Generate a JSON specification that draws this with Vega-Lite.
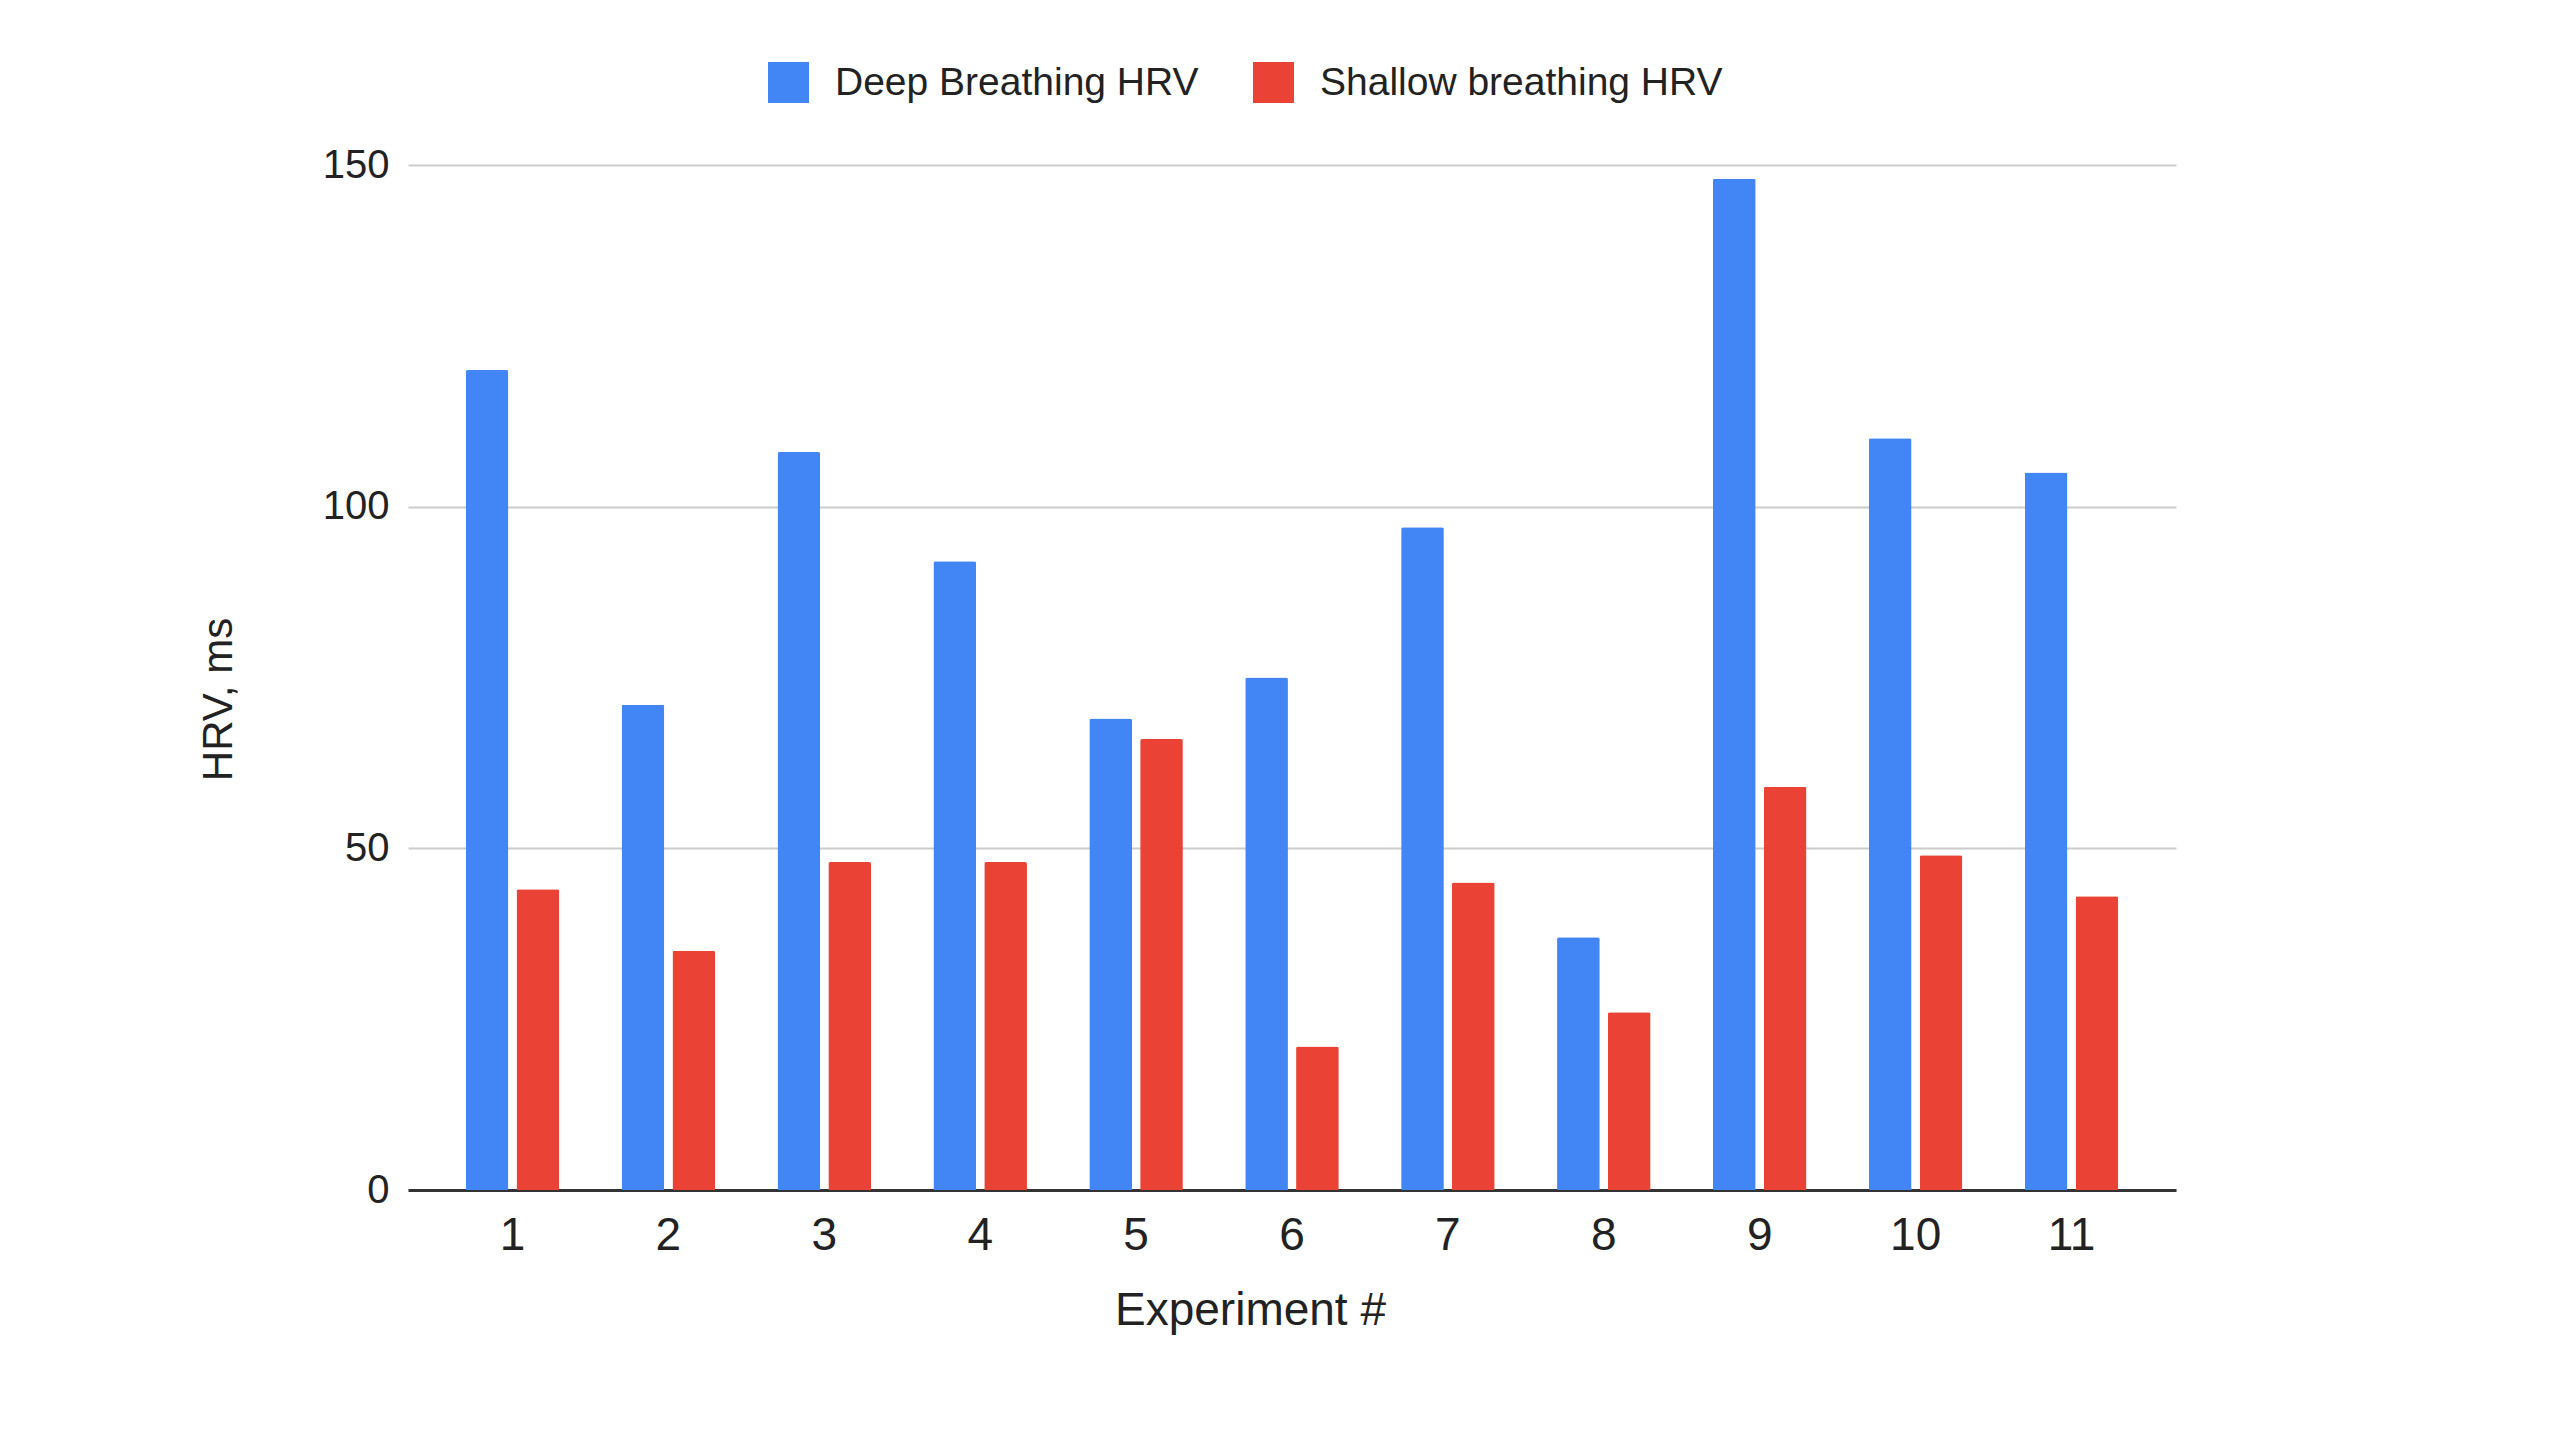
{
  "$schema": "https://vega.github.io/schema/vega-lite/v6.json",
  "autosize": {"type": "none"},
  "padding": {"left": 408, "top": 165, "right": 384, "bottom": 250},
  "width": 1768,
  "height": 1025,
  "background": "white",
  "config": {
    "font": "Liberation Sans",
    "view": {"stroke": null}
  },
  "data": {
    "values": [
      {"exp": 1, "series": "Deep Breathing HRV", "hrv": 120},
      {"exp": 1, "series": "Shallow breathing HRV", "hrv": 44},
      {"exp": 2, "series": "Deep Breathing HRV", "hrv": 71},
      {"exp": 2, "series": "Shallow breathing HRV", "hrv": 35},
      {"exp": 3, "series": "Deep Breathing HRV", "hrv": 108},
      {"exp": 3, "series": "Shallow breathing HRV", "hrv": 48},
      {"exp": 4, "series": "Deep Breathing HRV", "hrv": 92},
      {"exp": 4, "series": "Shallow breathing HRV", "hrv": 48},
      {"exp": 5, "series": "Deep Breathing HRV", "hrv": 69},
      {"exp": 5, "series": "Shallow breathing HRV", "hrv": 66},
      {"exp": 6, "series": "Deep Breathing HRV", "hrv": 75},
      {"exp": 6, "series": "Shallow breathing HRV", "hrv": 21},
      {"exp": 7, "series": "Deep Breathing HRV", "hrv": 97},
      {"exp": 7, "series": "Shallow breathing HRV", "hrv": 45},
      {"exp": 8, "series": "Deep Breathing HRV", "hrv": 37},
      {"exp": 8, "series": "Shallow breathing HRV", "hrv": 26},
      {"exp": 9, "series": "Deep Breathing HRV", "hrv": 148},
      {"exp": 9, "series": "Shallow breathing HRV", "hrv": 59},
      {"exp": 10, "series": "Deep Breathing HRV", "hrv": 110},
      {"exp": 10, "series": "Shallow breathing HRV", "hrv": 49},
      {"exp": 11, "series": "Deep Breathing HRV", "hrv": 105},
      {"exp": 11, "series": "Shallow breathing HRV", "hrv": 43}
    ]
  },
  "mark": {"type": "bar", "cornerRadiusTopLeft": 2, "cornerRadiusTopRight": 2},
  "encoding": {
    "x": {
      "field": "exp",
      "type": "ordinal",
      "scale": {"paddingInner": 0.4, "paddingOuter": 0.37},
      "axis": {
        "title": "Experiment #",
        "titleFontSize": 46,
        "titleFontWeight": "normal",
        "titleColor": "#222222",
        "titleX": 842,
        "titleY": 134,
        "titleAnchor": null,
        "titleAlign": "center",
        "titleBaseline": "alphabetic",
        "labelFontSize": 46,
        "labelColor": "#222222",
        "labelAngle": 0,
        "labelPadding": 23,
        "ticks": false,
        "domain": true,
        "domainColor": "#333333",
        "domainWidth": 3,
        "grid": false
      }
    },
    "xOffset": {
      "field": "series",
      "type": "nominal",
      "sort": ["Deep Breathing HRV", "Shallow breathing HRV"],
      "scale": {"paddingInner": 0.16, "paddingOuter": 0}
    },
    "y": {
      "field": "hrv",
      "type": "quantitative",
      "scale": {"domain": [0, 150], "nice": false},
      "axis": {
        "title": "HRV, ms",
        "titleFontSize": 42,
        "titleFontWeight": "normal",
        "titleColor": "#222222",
        "titleX": -190,
        "titleY": 534,
        "titleAngle": -90,
        "titleAlign": "center",
        "titleBaseline": "middle",
        "values": [0, 50, 100, 150],
        "labelFontSize": 40,
        "labelColor": "#222222",
        "labelPadding": 19,
        "ticks": false,
        "domain": false,
        "grid": true,
        "gridColor": "#cccccc",
        "gridWidth": 2
      }
    },
    "color": {
      "field": "series",
      "type": "nominal",
      "sort": ["Deep Breathing HRV", "Shallow breathing HRV"],
      "scale": {"domain": ["Deep Breathing HRV", "Shallow breathing HRV"], "range": ["#4285F4", "#EA4335"]},
      "legend": {
        "title": null,
        "orient": "none",
        "direction": "horizontal",
        "legendX": 360,
        "legendY": -103,
        "symbolType": "square",
        "symbolSize": 1681,
        "symbolStrokeWidth": 0,
        "symbolOpacity": 1,
        "labelFontSize": 39,
        "labelLimit": 0,
        "labelColor": "#222222",
        "labelOffset": 26,
        "columnPadding": 54
      }
    }
  }
}
